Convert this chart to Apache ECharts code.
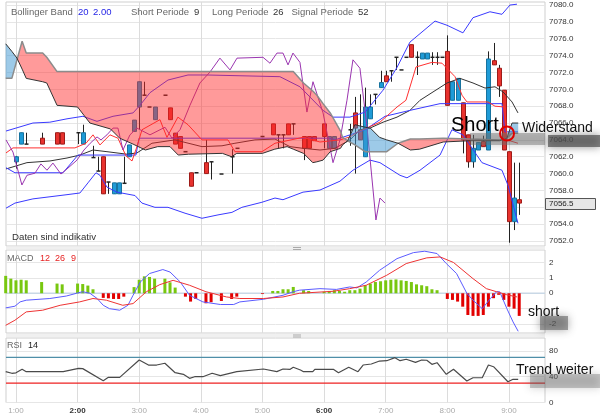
<!DOCTYPE html>
<html><head><meta charset="utf-8">
<script src="https://cdn.jsdelivr.net/npm/echarts@6/dist/echarts.min.js"></script>
<style>html,body{margin:0;padding:0;background:#fff}#c{width:600px;height:416px}</style>
</head><body><div id="c"></div>
<script>
// ---- time axis (minutes after 0:00) ----
const hourTicks = [60,120,180,240,300,360,420,480,540];
const boldHours = ['2:00','6:00'];
const priceTicks = [7052,7054,7056,7058,7060,7062,7064,7066,7068,7070,7072,7074,7076,7078,7080];
const macdTicks = [-2,-1,0,1,2];
const macdLabels = [-2,0,1,2];
const rsiTicks = [0,40,80];

// ---- candles (5 min) ----
const candleTime = [60,65,70,85,100,105,120,125,135,140,145,150,155,160,165,170,175,180,185,190,195,205,210,215,220,225,230,235,245,250,260,270,275,300,310,315,320,325,330,340,345,350,360,365,370,385,390,395,400,405,410,415,420,425,430,435,440,445,450,455,460,465,470,475,480,485,490,495,500,505,510,515,520,525,530,535,540,545,550];
const candleOpen = [7061.4,7063.5,7063.5,7064.2,7064.85,7064.85,7064.85,7063.5,7061.9,7060.3,7062.0,7059.0,7057.6,7057.6,7058.85,7062.0,7065.0,7067.9,7069.3,7067.9,7066.4,7069.3,7067.8,7064.8,7064.4,7062.6,7060.1,7060.1,7061.3,7061.4,7059.95,7062.0,7063.0,7064.4,7065.9,7064.6,7064.6,7065.9,7065.9,7064.4,7064.4,7064.4,7065.9,7063.0,7063.0,7065.2,7067.2,7065.2,7062.0,7066.5,7069.4,7070.2,7071.6,7072.2,7073.8,7072.3,7073.8,7075.3,7073.8,7073.6,7073.6,7073.8,7073.8,7073.8,7074.5,7068.7,7068.7,7068.4,7064.6,7061.4,7062.8,7063.8,7062.8,7073.4,7072.5,7069.9,7062.6,7054.3,7056.9];
const candleClose = [7062.0,7064.85,7063.5,7063.5,7063.5,7063.5,7064.85,7064.85,7061.9,7060.3,7057.6,7059.0,7058.9,7058.9,7058.85,7063.4,7066.35,7070.9,7069.3,7067.9,7067.9,7069.3,7066.4,7063.5,7063.0,7062.6,7058.5,7060.1,7060.0,7061.4,7059.95,7062.0,7063.0,7064.4,7064.6,7064.6,7064.6,7064.6,7065.9,7063.0,7063.0,7063.9,7064.4,7064.4,7064.4,7065.2,7065.4,7064.0,7067.9,7067.9,7069.4,7070.8,7070.9,7072.2,7073.8,7072.3,7073.8,7073.8,7073.8,7074.3,7074.3,7073.8,7073.8,7073.8,7068.1,7070.9,7071.3,7064.0,7061.4,7063.0,7063.7,7063.2,7073.6,7072.9,7070.4,7062.8,7054.3,7057.1,7056.5];
const candleLow = [7060.6,7063.5,7063.5,7063.5,7063.5,7063.5,7063.5,7063.5,7061.9,7060.3,7057.6,7057.6,7057.6,7057.6,7058.85,7062.0,7065.0,7065.2,7069.3,7067.9,7066.4,7069.3,7066.4,7063.5,7063.0,7062.6,7058.5,7060.1,7060.0,7059.3,7059.95,7060.0,7063.0,7064.4,7064.6,7063.0,7063.0,7064.6,7064.6,7061.6,7063.0,7063.9,7063.0,7063.0,7063.0,7063.3,7060.0,7064.0,7062.0,7066.5,7068.2,7070.2,7070.9,7070.9,7072.3,7072.3,7073.8,7073.8,7071.7,7073.6,7073.6,7072.9,7072.9,7073.8,7068.1,7068.7,7068.7,7062.4,7060.7,7060.7,7062.8,7063.2,7062.8,7072.9,7069.1,7062.8,7051.8,7053.3,7055.1];
const candleHigh = [7062.1,7064.85,7064.85,7064.85,7064.85,7064.85,7064.85,7065.8,7063.3,7062.0,7062.0,7059.0,7058.9,7058.9,7062.0,7063.4,7066.35,7070.9,7070.9,7067.9,7067.9,7069.3,7067.8,7064.8,7064.4,7062.6,7060.1,7060.1,7064.0,7061.4,7059.95,7062.9,7063.0,7064.4,7065.9,7064.6,7064.6,7065.9,7065.9,7064.4,7064.4,7064.4,7065.9,7064.4,7064.4,7065.9,7069.1,7069.4,7070.2,7069.4,7069.4,7072.2,7072.2,7072.2,7073.8,7072.3,7073.8,7075.3,7074.5,7074.3,7074.3,7074.4,7074.4,7073.8,7076.4,7070.9,7071.3,7068.4,7064.6,7064.6,7063.7,7064.5,7074.5,7075.5,7072.9,7069.9,7062.6,7061.3,7061.3];

// ---- Ichimoku cloud ----
const cloudTime = [50,56,61,66,70,86,90,100,120,132,152,161,174,186,198,210,218,228,261,270,275,300,312,324,330,340,349,353,359,366,376,378,383,390,400,405,414,421,432,444,453,476,502,531,538,543,549];
const spanA = [7071.3,7071.3,7073.5,7075.7,7074.3,7074.3,7073.8,7072.1,7072.1,7072.1,7072.1,7072.1,7072.1,7072.1,7072.1,7072.1,7072.1,7072.1,7072.1,7072.1,7072.1,7072.1,7072.1,7072.1,7072.1,7070.75,7069.8,7069.3,7068.3,7067.2,7065.05,7064.3,7063.9,7063.4,7062.6,7062.6,7062.6,7062.6,7063.6,7064.1,7064.1,7064.2,7064.1,7064.0,7064.2,7064.8,7064.8];
const spanB = [7075.4,7074.5,7073.7,7072.4,7071.3,7070.9,7070.75,7068.1,7067.9,7066.0,7065.3,7064.2,7063.5,7062.8,7063.2,7063.2,7062.2,7062.3,7062.4,7062.0,7062.4,7062.4,7062.9,7063.2,7062.9,7062.4,7061.3,7061.4,7061.6,7062.6,7063.0,7063.4,7063.9,7065.8,7065.5,7065.4,7064.3,7064.0,7063.6,7062.8,7062.9,7063.75,7063.9,7063.9,7064.2,7066.0,7066.0];

// ---- overlay lines [time, price] ----
const bbUpper = [[50.3,7065.05],[60,7065.4],[76.5,7066.0],[93,7066.1],[109.7,7066.5],[125.2,7066.8],[138.9,7066.2],[154.5,7066.8],[174,7067.2],[180.7,7068.1],[190.5,7069.6],[208,7071.1],[227.5,7071.7],[246,7071.7],[317,7071.5],[336.5,7070.3],[359,7067.5],[368.7,7066.7],[385.2,7066.7],[400,7067.3],[417.4,7069.9],[431,7072.6],[443.6,7075.6],[468,7078.1],[479.7,7077.6],[495.2,7076.7],[505,7078.5],[521.5,7079.2],[533.2,7078.9],[541,7080.0],[547.8,7080.1]];
const bbMiddle = [[50.3,7060.55],[70.7,7061.3],[93.1,7061.5],[109.7,7061.85],[122.3,7062.2],[135,7062.8],[148.6,7062.6],[168.1,7062.3],[177.8,7062.45],[192.4,7063.6],[214.8,7064.0],[241.1,7063.2],[260.6,7063.3],[273.2,7063.6],[292.7,7064.0],[312.2,7064.1],[326.8,7063.2],[339.5,7063.0],[356,7062.8],[370.6,7063.0],[385.2,7064.0],[395,7065.2],[404.7,7065.4],[417.4,7066.1],[431,7066.7],[443.6,7067.5],[453.4,7068.7],[479.7,7070.75],[492.3,7071.3],[505,7070.75],[516.7,7070.15],[526.4,7070.3],[534.2,7069.7],[543,7068.5],[548.8,7067.2]];
const bbLower = [[50.3,7055.9],[59,7056.5],[76.5,7057.0],[109.7,7057.5],[122.3,7057.7],[130.1,7058.9],[137.9,7060.1],[141.8,7059.8],[148.6,7058.4],[158.3,7057.8],[175.9,7057.4],[182.7,7056.5],[195.3,7056.0],[208,7056.0],[224.6,7055.3],[241.1,7054.7],[256.7,7055.1],[270.3,7055.4],[280,7056.0],[299.5,7056.6],[312.2,7057.1],[320,7056.9],[339.5,7057.8],[356,7058.05],[375.5,7059.1],[388.1,7060.4],[404.7,7061.6],[414.4,7061.3],[433.9,7059.8],[440.7,7059.5],[453.4,7060.4],[472.9,7062.2],[484.5,7065.2],[495.2,7064.6],[513.7,7061.3],[533.2,7060.4],[539.1,7058.6],[548.8,7054.1]];
const tenkan = [[50.3,7062.45],[57.1,7063.05],[117.4,7063.05],[128.2,7063.6],[135,7064.6],[141.8,7063.4],[151.5,7064.6],[159.3,7064.2],[167.1,7062.1],[173,7061.5],[177.8,7063.2],[182.7,7065.2],[200.2,7066.4],[207,7064.3],[217.7,7066.7],[227.5,7065.8],[241.1,7064.0],[266.4,7064.0],[273.2,7062.6],[299.5,7062.6],[312.2,7063.6],[339.5,7064.3],[356,7063.75],[375.5,7064.0],[385.2,7064.35],[392,7064.9],[414.4,7066.1],[431,7067.9],[439.7,7068.7],[449.5,7072.65],[465,7073.2],[474.8,7073.1],[487.5,7071.5],[494.3,7069.3],[499.1,7068.5],[519.6,7068.5],[526.4,7068.0],[536.1,7067.9],[538.1,7064.0],[548.8,7063.6]];
const kijun = [[50.3,7060.7],[59,7060.1],[105.8,7060.1],[120.4,7062.2],[176.8,7062.2],[179.8,7064.2],[365.7,7064.2],[370.6,7064.0],[400,7065.2],[419.3,7066.8],[443.6,7067.5],[472.9,7068.3],[533.2,7068.3],[536.1,7064.95],[548.8,7064.95]];
const chikou = [[50.3,7064.0],[57.1,7062.55],[61,7060.8],[65.8,7058.65],[70.7,7059.8],[78.5,7060.05],[84.3,7061.15],[90.2,7060.4],[96,7061.25],[103.8,7059.95],[110.6,7060.65],[119.4,7061.6],[126.2,7062.8],[132.3,7063.6],[138.9,7064.35],[142.8,7064.0],[148.6,7064.6],[154.5,7065.4],[159.3,7065.4],[164.2,7062.8],[171,7064.6],[177.8,7065.4],[190.5,7064.6],[205.1,7065.5],[211.9,7064.2],[219.7,7065.2],[229.4,7068.1],[239.1,7070.75],[248.9,7072.05],[258.6,7073.7],[268.4,7072.3],[275.2,7073.7],[300.5,7073.8],[307.3,7073.1],[314.1,7074.3],[320,7074.3],[324.9,7072.9],[329.7,7074.3],[336.5,7073.2],[343.3,7067.3],[349.2,7070.9],[359,7067.2],[368.7,7061.3],[375.5,7064.0],[382.3,7068.7],[388.1,7073.5],[394.9,7072.5],[401.8,7065.5],[410.5,7054.5],[414.4,7057.1],[419.3,7056.5]];

// ---- MACD ----
const macdHistTime = [50,55,60,65,70,85,100,105,120,125,130,135,145,150,155,160,165,175,180,185,190,195,205,210,215,225,230,235,245,250,260,270,275,300,310,315,320,325,330,340,345,360,365,370,375,380,385,390,395,400,405,410,415,420,425,430,435,440,445,450,455,460,465,470,480,485,490,495,500,505,510,515,520,525,530,535,540,545,550];
const macdHist = [1.13,0.95,0.84,0.88,0.84,0.73,0.63,0.58,0.63,0.6,0.5,0.26,-0.3,-0.33,-0.37,-0.37,-0.22,0.4,0.88,1.1,1.06,0.95,0.95,0.71,0.37,-0.22,-0.54,-0.37,-0.65,-0.58,-0.5,-0.37,-0.22,-0.05,0.15,0.15,0.26,0.26,0.41,0.2,0.15,0.1,0.15,0.2,0.15,0.1,0.2,0.2,0.3,0.52,0.63,0.73,0.78,0.84,0.88,0.9,0.84,0.8,0.73,0.58,0.52,0.46,0.26,0.2,-0.37,-0.43,-0.54,-0.87,-1.41,-1.47,-1.47,-1.41,-0.87,-0.32,-0.1,-0.43,-0.87,-1.0,-1.47];
const macdLine = [[50,-0.95],[59,-0.84],[64,-0.56],[70,-0.45],[93,-0.34],[109,-0.18],[119,0.0],[125,0.1],[132,0.0],[139,-0.34],[145,-0.78],[151,-1.0],[161,-1.1],[169,-0.78],[174,-0.13],[181,0.73],[190,1.28],[203,1.54],[210,1.38],[220,0.73],[229,-0.13],[242,-0.56],[259,-0.73],[272,-0.73],[278,-0.56],[301,-0.39],[320,-0.13],[330,0.1],[336,0.2],[356,0.3],[372,0.25],[385,0.41],[392,0.35],[401,0.73],[414,1.49],[431,2.25],[447,2.64],[458,2.73],[470,2.58],[479,1.93],[489,1.28],[499,0.0],[505,-0.45],[514,-1.0],[522,-0.34],[528,0.1],[531,0.1],[538,-1.0],[544,-1.86],[549,-2.47]];
const signalLine = [[50,-2.08],[59,-1.75],[70,-1.21],[86,-1.1],[103,-0.78],[122,-0.56],[135,-0.34],[148,-0.45],[164,-0.78],[174,-0.67],[187,0.1],[200,0.56],[213,0.84],[229,0.52],[245,0.1],[265,-0.24],[278,-0.34],[301,-0.34],[320,-0.24],[336,0.0],[369,0.13],[385,0.3],[401,0.52],[421,1.17],[440,1.93],[460,2.3],[473,2.36],[486,2.0],[505,0.95],[518,0.3],[528,0.1],[538,-0.1],[548,-0.24]];

// ---- RSI ----
const rsiLine = [[50,47.8],[56,45.3],[60,46],[66,51.5],[70,47.8],[106,47.8],[121,53],[125,52.5],[145,33.8],[150,39],[161,39],[180,65.9],[189,58.1],[197,58.1],[205,60.8],[215,46.2],[223,43.7],[229,37.5],[234,40],[242,40],[251,45.3],[259,41.6],[275,47.8],[301,51.9],[314,47.8],[320,51.9],[327,51.5],[330,54.6],[337,50.4],[340,47.8],[349,47.8],[351,51.5],[369,51.5],[374,46.2],[384,54.6],[393,47.8],[398,58.1],[406,59.7],[414,64.3],[421,64.8],[429,69.5],[434,64.8],[440,67],[449,62.3],[455,65.9],[460,65.5],[465,59.2],[470,61.7],[479,43.7],[486,51.5],[499,33.3],[505,38.4],[514,38.4],[520,58.1],[525,55.5],[539,32.2],[544,36],[549,36]];
const rsiUpper = 70, rsiLower = 30;
const lastPrice = 7056.5;

const FONT = '"Liberation Sans", Arial, sans-serif';
const X_MIN = 50.3, X_MAX = 575.1;
const chart = echarts.init(document.getElementById('c'), null, {renderer:'canvas'});

function xAx(gi, showLabels){
  return {type:'value', gridIndex:gi, min:X_MIN, max:X_MAX,
    axisLine:{show:false}, axisTick:{show:false, customValues:hourTicks},
    axisLabel:{show:showLabels, customValues:hourTicks, fontSize:8, fontFamily:FONT, color:'#aaa', margin:4,
      formatter:v=>{const s=Math.round(v/60)+':00'; return boldHours.includes(s)?'{b|'+s+'}':s;},
      rich:{b:{fontWeight:'bold', color:'#333', fontSize:8, fontFamily:FONT}}},
    splitLine:{show:true, lineStyle:{color:'#dcdcdc', width:1}}};
}
function ln(data, color, width, z, xi, yi){
  return {type:'line', xAxisIndex:xi||0, yAxisIndex:yi||0, data, symbol:'none', showSymbol:false,
    lineStyle:{color, width}, itemStyle:{color}, z, silent:true, clip:true};
}

const option = {
  animation:false,
  backgroundColor:'#fff',
  grid:[
    {left:6, right:55, top:2, height:244, show:true, borderColor:'#cfcfcf', borderWidth:1},
    {left:6, right:55, top:250, height:83, show:true, borderColor:'#cfcfcf', borderWidth:1},
    {left:6, right:55, top:338, height:64.5, show:true, borderColor:'#cfcfcf', borderWidth:1}
  ],
  xAxis:[xAx(0,false), xAx(1,false), xAx(2,true)],
  yAxis:[
    {type:'value', gridIndex:0, position:'right', min:7051.41, max:7080.36,
      axisLine:{show:false}, axisTick:{show:false, customValues:priceTicks},
      axisLabel:{customValues:priceTicks, formatter:v=>v.toFixed(1), fontSize:8, fontFamily:FONT, color:'#333', margin:4},
      splitLine:{show:true, lineStyle:{color:'#e6e6e6'}}},
    {type:'value', gridIndex:1, position:'right', min:-2.58, max:2.81,
      axisLine:{show:false}, axisTick:{show:false, customValues:macdTicks},
      axisLabel:{customValues:macdLabels, fontSize:8, fontFamily:FONT, color:'#333', margin:4},
      splitLine:{show:true, lineStyle:{color:'#e6e6e6'}}},
    {type:'value', gridIndex:2, position:'right', min:0, max:100,
      axisLine:{show:false}, axisTick:{show:false, customValues:rsiTicks},
      axisLabel:{customValues:rsiTicks, fontSize:8, fontFamily:FONT, color:'#333', margin:4},
      splitLine:{show:true, lineStyle:{color:'#e6e6e6'}}}
  ],
  series:[
    {type:'custom', xAxisIndex:0, yAxisIndex:0, z:2, silent:true,
      data:candleTime.map((t,i)=>[t,candleOpen[i],candleClose[i],candleLow[i],candleHigh[i]]),
      encode:{x:0, y:[1,2,3,4]},
      renderItem:(params, api)=>{
        const t=api.value(0), o=api.value(1), c=api.value(2), l=api.value(3), h=api.value(4);
        const x=Math.round(api.coord([t,o])[0])+0.5;
        const yo=api.coord([t,o])[1], yc=api.coord([t,c])[1], yl=api.coord([t,l])[1], yh=api.coord([t,h])[1];
        const ch=[];
        if (yl-yh>0.5) ch.push({type:'line', shape:{x1:x,y1:yh,x2:x,y2:yl}, style:{stroke:'#222', lineWidth:1}});
        if (Math.abs(yo-yc)<0.8){
          ch.push({type:'line', shape:{x1:x-2,y1:yo,x2:x+2,y2:yo}, style:{stroke:'#222', lineWidth:1.5}});
        } else {
          const up=c>o;
          ch.push({type:'rect', shape:{x:x-2, y:Math.min(yo,yc), width:4, height:Math.abs(yo-yc)},
            style:{fill:up?'#1e9bd7':'#e8322e', stroke:up?'#17739f':'#9e1b18', lineWidth:1}});
        }
        return {type:'group', children:ch};
      }},
    ln(bbUpper,'#3a3aff',1,3),
    ln(bbLower,'#3a3aff',1,3),
    ln(bbMiddle,'#333',1,3),
    ln(kijun,'#3a3aff',1,3),
    ln(tenkan,'#ff3030',1,3),
    ln(chikou,'#9a35b0',1,3),
    {type:'custom', xAxisIndex:0, yAxisIndex:0, z:5, silent:true,
      data:cloudTime.map((t,i)=>[t,spanA[i],spanB[i]]),
      encode:{x:0, y:[1,2]},
      renderItem:(params, api)=>{
        if (params.dataIndex!==0) return null;
        const P=(t,v)=>api.coord([t,v]);
        const polys=[]; let top=[], bot=[], sg=null;
        for (let i=0;i<cloudTime.length;i++){
          const d=spanA[i]-spanB[i]; const s=d>=0?1:-1;
          if (sg===null){ sg=s; top.push(P(cloudTime[i],spanA[i])); bot.push(P(cloudTime[i],spanB[i])); continue; }
          if (s!==sg){
            const dp=spanA[i-1]-spanB[i-1]; const f=dp/(dp-d);
            const tc=cloudTime[i-1]+f*(cloudTime[i]-cloudTime[i-1]);
            const vc=spanA[i-1]+f*(spanA[i]-spanA[i-1]);
            const pc=P(tc,vc);
            top.push(pc); bot.push(pc);
            polys.push({s:sg, pts:top.concat(bot.slice().reverse())});
            top=[pc]; bot=[pc]; sg=s;
          }
          top.push(P(cloudTime[i],spanA[i])); bot.push(P(cloudTime[i],spanB[i]));
        }
        polys.push({s:sg, pts:top.concat(bot.slice().reverse())});
        return {type:'group', children:polys.map(p=>({type:'polygon', shape:{points:p.pts},
          style:{fill:p.s>0?'rgba(255,40,40,0.47)':'rgba(60,150,210,0.5)'}}))};
      }},
    ln(cloudTime.map((t,i)=>[t,spanA[i]]),'#8c8c8c',1.5,6),
    ln(cloudTime.map((t,i)=>[t,spanB[i]]),'#333',1,6),
    // MACD
    {type:'bar', xAxisIndex:1, yAxisIndex:1, barWidth:3, z:2, silent:true,
      data:macdHistTime.map((t,i)=>({value:[t,macdHist[i]], itemStyle:{color:macdHist[i]>=0?'#78c70f':'#e20000'}}))},
    ln([[X_MIN,0],[X_MAX,0]],'#c9d8e6',1.5,1,1,1),
    ln(macdLine,'#5b5bff',1,3,1,1),
    ln(signalLine,'#ee3333',1,3,1,1),
    // RSI
    ln([[X_MIN,rsiUpper],[X_MAX,rsiUpper]],'#4f8fa8',1.2,2,2,2),
    ln([[X_MIN,rsiLower],[X_MAX,rsiLower]],'#ee2222',1.2,2,2,2),
    ln(rsiLine,'#4a4a4a',1.2,3,2,2)
  ],
  graphic:[
    {type:'rect', silent:true, shape:{x:6,y:246.5,width:539,height:3}, style:{fill:'#f0f0f0'}, z:10},
    {type:'rect', silent:true, shape:{x:6,y:334,width:539,height:3}, style:{fill:'#f0f0f0'}, z:10},
    {type:'rect', silent:true, shape:{x:293,y:247,width:8,height:1}, style:{fill:'#aaa'}, z:11},
    {type:'rect', silent:true, shape:{x:293,y:249,width:8,height:1}, style:{fill:'#aaa'}, z:11},
    {type:'rect', silent:true, shape:{x:293,y:334.5,width:8,height:1}, style:{fill:'#aaa'}, z:11},
    {type:'rect', silent:true, shape:{x:293,y:336.5,width:8,height:1}, style:{fill:'#aaa'}, z:11},
    // legends
    {type:'text', x:11, y:12, z:20, style:{text:'Bollinger Band', fill:'#666', font:'9.5px '+FONT, verticalAlign:'middle'}},
    {type:'text', x:78, y:12, z:20, style:{text:'20', fill:'#2525e6', font:'9.5px '+FONT, verticalAlign:'middle'}},
    {type:'text', x:93, y:12, z:20, style:{text:'2.00', fill:'#2525e6', font:'9.5px '+FONT, verticalAlign:'middle'}},
    {type:'text', x:131, y:12, z:20, style:{text:'Short Periode', fill:'#666', font:'9.5px '+FONT, verticalAlign:'middle'}},
    {type:'text', x:194, y:12, z:20, style:{text:'9', fill:'#333', font:'9.5px '+FONT, verticalAlign:'middle'}},
    {type:'text', x:212, y:12, z:20, style:{text:'Long Periode', fill:'#666', font:'9.5px '+FONT, verticalAlign:'middle'}},
    {type:'text', x:273, y:12, z:20, style:{text:'26', fill:'#333', font:'9.5px '+FONT, verticalAlign:'middle'}},
    {type:'text', x:291.5, y:12, z:20, style:{text:'Signal Periode', fill:'#666', font:'9.5px '+FONT, verticalAlign:'middle'}},
    {type:'text', x:358, y:12, z:20, style:{text:'52', fill:'#333', font:'9.5px '+FONT, verticalAlign:'middle'}},
    {type:'text', x:12, y:237, z:20, style:{text:'Daten sind indikativ', fill:'#333', font:'9.7px '+FONT, verticalAlign:'middle'}},
    {type:'text', x:7, y:259, z:20, style:{text:'MACD', fill:'#666', font:'9px '+FONT, verticalAlign:'middle'}},
    {type:'text', x:40, y:259, z:20, style:{text:'12', fill:'#e62222', font:'9px '+FONT, verticalAlign:'middle'}},
    {type:'text', x:55, y:259, z:20, style:{text:'26', fill:'#e62222', font:'9px '+FONT, verticalAlign:'middle'}},
    {type:'text', x:71, y:259, z:20, style:{text:'9', fill:'#e62222', font:'9px '+FONT, verticalAlign:'middle'}},
    {type:'text', x:7, y:346, z:20, style:{text:'RSI', fill:'#666', font:'9px '+FONT, verticalAlign:'middle'}},
    {type:'text', x:28, y:346, z:20, style:{text:'14', fill:'#222', font:'9px '+FONT, verticalAlign:'middle'}},
    // annotation shadows
    {type:'rect', silent:true, z:15, shape:{x:470,y:133,width:75,height:12}, style:{fill:'rgba(110,110,110,0.45)', shadowBlur:8, shadowColor:'rgba(90,90,90,0.6)'}},
    {type:'rect', silent:true, z:15, shape:{x:548,y:135,width:52,height:12}, style:{fill:'rgba(80,80,80,0.7)', shadowBlur:8, shadowColor:'rgba(60,60,60,0.8)'}},
    {type:'rect', silent:true, z:15, shape:{x:540,y:316,width:28,height:14}, style:{fill:'rgba(90,90,90,0.55)', shadowBlur:8, shadowColor:'rgba(60,60,60,0.8)'}},
    {type:'rect', silent:true, z:15, shape:{x:530,y:374,width:70,height:14}, style:{fill:'rgba(100,100,100,0.35)', shadowBlur:8, shadowColor:'rgba(60,60,60,0.7)'}},
    // price box
    {type:'rect', silent:true, z:16, shape:{x:545.5,y:198.5,width:50,height:11}, style:{fill:'#e6e6e6', stroke:'#555', lineWidth:1}},
    {type:'text', x:549, y:204, z:17, style:{text:lastPrice.toFixed(1), fill:'#222', font:'8px '+FONT, verticalAlign:'middle'}},
    // annotations
    {type:'circle', silent:true, z:18, shape:{cx:507, cy:133.5, r:7}, style:{fill:'none', stroke:'#e00000', lineWidth:2}},
    {type:'text', x:451, y:125, z:20, style:{text:'Short', fill:'#000', font:'20px '+FONT, verticalAlign:'middle'}},
    {type:'text', x:522, y:128.5, z:20, style:{text:'Widerstand', fill:'#111', font:'14px '+FONT, verticalAlign:'middle'}},
    {type:'text', x:528, y:312, z:20, style:{text:'short', fill:'#111', font:'14px '+FONT, verticalAlign:'middle'}},
    {type:'text', x:516, y:370.5, z:20, style:{text:'Trend weiter', fill:'#111', font:'14px '+FONT, verticalAlign:'middle'}}
  ]
};
chart.setOption(option);
</script></body></html>
